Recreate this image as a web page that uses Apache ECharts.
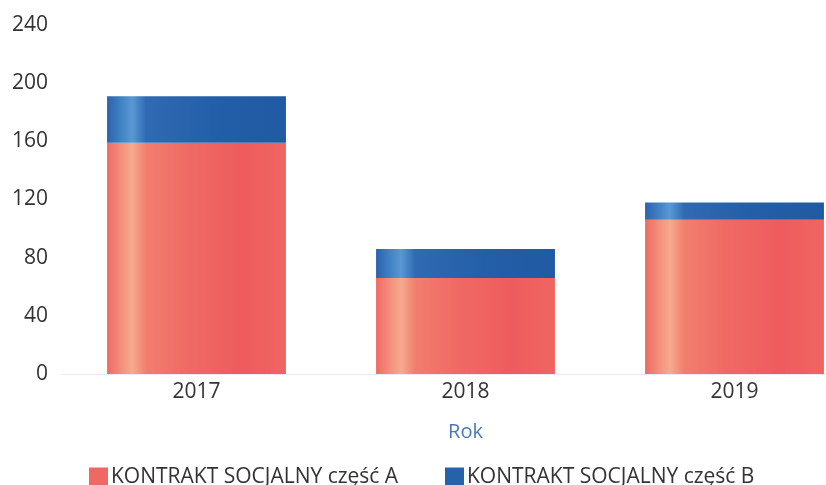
<!DOCTYPE html>
<html>
<head>
<meta charset="utf-8">
<script src="https://cdn.jsdelivr.net/npm/echarts@6/dist/echarts.min.js"></script>
<style>
  html, body { margin: 0; padding: 0; background: #fff; }
  #chart { width: 826px; height: 485px; }
</style>
</head>
<body>
<div id="chart"></div>
<script>
// dane
const years = ["2017", "2018", "2019"];
const partA = [159, 66, 106];
const partB = [32, 20, 12];
const yTicks = { min: 0, max: 240, interval: 40 };
const seriesNames = ["KONTRAKT SOCJALNY część A", "KONTRAKT SOCJALNY część B"];

const FONT = "Open Sans";

// pionowy "połysk" na słupkach
const redFill = new echarts.graphic.LinearGradient(0, 0, 1, 0, [
  { offset: 0, color: "#f06a64" },
  { offset: 0.08, color: "#f3907c" },
  { offset: 0.14, color: "#f6aa8e" },
  { offset: 0.22, color: "#f27e6e" },
  { offset: 0.45, color: "#ef6a64" },
  { offset: 0.75, color: "#ee5c5d" },
  { offset: 1, color: "#ef6561" },
]);
const blueFill = new echarts.graphic.LinearGradient(0, 0, 1, 0, [
  { offset: 0, color: "#2a63ac" },
  { offset: 0.08, color: "#4282c6" },
  { offset: 0.14, color: "#5a98d4" },
  { offset: 0.22, color: "#2f6ab2" },
  { offset: 0.6, color: "#235ea8" },
  { offset: 1, color: "#1f5aa2" },
]);

const legendText = { fontFamily: FONT, fontSize: 21, color: "#333", padding: [0, 0, 0, -2] };

const chart = echarts.init(document.getElementById("chart"));

chart.setOption({
  animation: false,
  backgroundColor: "#fff",
  textStyle: { fontFamily: FONT },
  grid: { left: 62, top: 25, width: 807, height: 349, outerBoundsMode: "none" },
  legend: [
    {
      left: 84,
      top: 462,
      icon: "rect",
      itemWidth: 19,
      itemHeight: 20,
      textStyle: legendText,
      data: [{ name: seriesNames[0], itemStyle: { color: "#f06864" } }],
    },
    {
      left: 440,
      top: 462,
      icon: "rect",
      itemWidth: 19,
      itemHeight: 20,
      textStyle: legendText,
      data: [{ name: seriesNames[1], itemStyle: { color: "#2462aa" } }],
    },
  ],
  xAxis: {
    type: "category",
    data: years,
    name: "Rok",
    nameLocation: "middle",
    nameGap: 48,
    nameTextStyle: { fontFamily: FONT, fontSize: 20, color: "#4a78b8" },
    axisLine: { show: true, lineStyle: { color: "#e4e8ee", type: "dotted", width: 1 } },
    axisTick: { show: false },
    axisLabel: { fontFamily: FONT, fontSize: 21, color: "#333", margin: 8 },
  },
  yAxis: {
    type: "value",
    min: yTicks.min,
    max: yTicks.max,
    interval: yTicks.interval,
    axisLine: { show: false },
    axisTick: { show: false },
    splitLine: { show: false },
    axisLabel: { fontFamily: FONT, fontSize: 21, color: "#333", margin: 14 },
  },
  series: [
    {
      name: seriesNames[0],
      type: "bar",
      stack: "total",
      barWidth: "66.5%",
      data: partA,
      itemStyle: { color: redFill },
    },
    {
      name: seriesNames[1],
      type: "bar",
      stack: "total",
      barWidth: "66.5%",
      data: partB,
      itemStyle: { color: blueFill },
    },
  ],
});
</script>
</body>
</html>
